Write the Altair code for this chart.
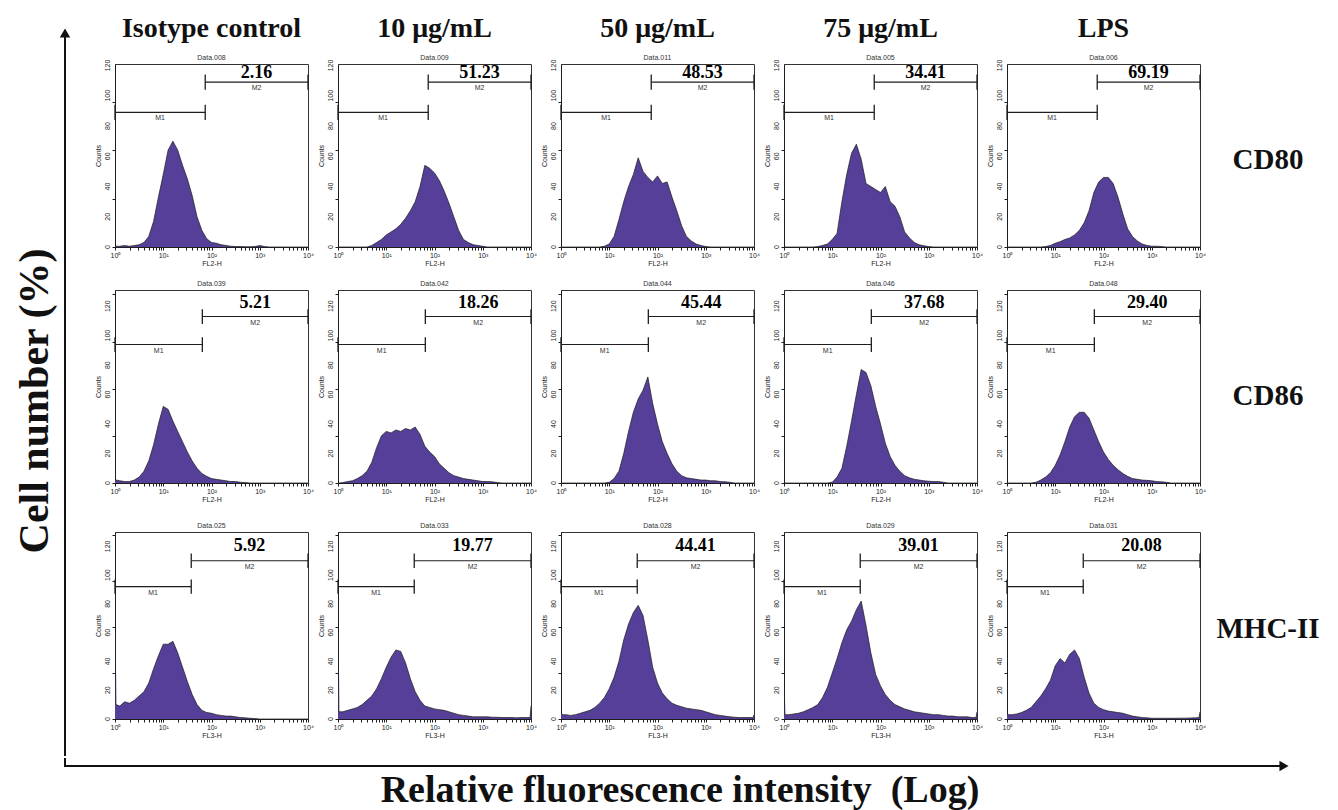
import math
import altair as alt
import pandas as pd

# ---------------- data ----------------
GRID_LOG = [0.0, 0.02,
            0.1, 0.2, 0.3, 0.4, 0.5, 0.6, 0.7, 0.8, 0.9,
            1.0, 1.1, 1.2, 1.3, 1.4, 1.5, 1.6, 1.7, 1.8, 1.9,
            2.0, 2.1, 2.2, 2.3, 2.4, 2.5, 2.6, 2.7, 2.8, 2.9,
            3.0, 3.1, 3.2, 3.3, 3.4, 3.5, 3.6, 3.7, 3.8, 3.9,
            3.98, 4.0]

COLUMNS = ["Isotype control", "10 μg/mL", "50 μg/mL", "75 μg/mL", "LPS"]
MARKERS = ["CD80", "CD86", "MHC-II"]
CHANNELS = ["FL2-H", "FL2-H", "FL3-H"]
DATA_NAMES = [
    ["Data.008", "Data.009", "Data.011", "Data.005", "Data.006"],
    ["Data.039", "Data.042", "Data.044", "Data.046", "Data.048"],
    ["Data.025", "Data.033", "Data.028", "Data.029", "Data.031"],
]
PERCENT_M2 = [
    ["2.16", "51.23", "48.53", "34.41", "69.19"],
    ["5.21", "18.26", "45.44", "37.68", "29.40"],
    ["5.92", "19.77", "44.41", "39.01", "20.08"],
]
GATE_LOG = [1.87, 1.81, 1.58]
M1_LEVEL = [89, 94, 92]
M2_LEVEL = [109, 113, 110]
Y_TOP = [121, 131, 130]
Y_TICK_LABELS = [0, 20, 40, 60, 80, 100, 120]
Y_TICKS = [0, 4, 8, 12, 16, 20, 24, 28, 32, 36, 40, 44, 48, 52, 56, 60,
           64, 68, 72, 76, 80, 84, 88, 92, 96, 100, 104, 108, 112, 116, 120, 124, 128]
X_TICKS = [1, 2, 3, 4, 5, 6, 7, 8, 9,
           10, 20, 30, 40, 50, 60, 70, 80, 90,
           100, 200, 300, 400, 500, 600, 700, 800, 900,
           1000, 2000, 3000, 4000, 5000, 6000, 7000, 8000, 9000,
           10000]
X_TICK_LABELS = {1: "10⁰", 10: "10¹", 100: "10²", 1000: "10³", 10000: "10⁴"}

CD80_ISOTYPE = [0.5, 0.5,
                0.5, 1, 0.5, 1, 1.5, 3, 7, 17, 33,
                48, 64, 70, 64, 54, 45, 34, 20, 11, 5.5,
                3, 2.5, 1.5, 1, 0.5, 0.3, 0.3, 0.2, 0.2, 0.3,
                1, 0.3, 0, 0, 0, 0, 0, 0, 0, 0,
                0, 0]
CD80_10 = [0, 0,
           0, 0, 0, 0, 0, 0, 1, 3, 5,
           8, 10, 12, 15, 19, 24, 30, 40, 54, 52,
           49, 44, 37, 29, 20, 11, 5, 3, 1.5, 1,
           0.5, 0, 0, 0, 0, 0, 0, 0, 0, 0,
           0, 0]
CD80_50 = [0, 0,
           0, 0, 0, 0, 0, 0, 0, 0, 0.5,
           2, 7, 18, 30, 40, 48, 59, 50, 46, 43,
           47, 42, 43, 33, 24, 14, 7, 4, 2, 1,
           0.3, 0, 0, 0, 0, 0, 0, 0, 0, 0,
           0, 0]
CD80_75 = [0, 0,
           0, 0, 0, 0, 0, 0, 0.3, 1, 2,
           5, 9, 30, 48, 62, 68, 58, 42, 40, 38,
           36, 40, 30, 27, 20, 10, 6, 3, 1.5, 0.8,
           0.3, 0, 0, 0, 0, 0, 0, 0, 0, 0,
           0, 0]
CD80_LPS = [0, 0,
            0, 0, 0, 0, 0, 0, 0, 0.3, 1,
            2.5, 3.5, 5, 6, 8, 11, 16, 24, 36, 43,
            46, 46, 42, 33, 22, 12, 7, 4, 2, 1,
            0.5, 0.5, 0.3, 0, 0, 0, 0, 0, 0, 0,
            0, 0]

CD86_ISOTYPE = [3, 2,
                1.5, 1, 1, 2, 4, 8, 15, 26, 40,
                52, 50, 42, 35, 28, 21, 15, 10, 6.5, 4.5,
                3, 2.5, 2, 1.5, 1, 1, 0.5, 0.3, 0, 0,
                0, 0, 0, 0, 0, 0, 0, 0, 0, 0,
                0, 0]
CD86_10 = [0, 0,
           0.3, 1, 1.5, 3, 5, 8, 14, 24, 32,
           35, 34, 36, 35, 37, 36, 38, 33, 25, 21,
           18, 13, 10, 7, 5, 4, 3, 2.5, 2, 1.5,
           1, 1, 0.8, 0.3, 0, 0, 0, 0, 0, 0,
           0, 0]
CD86_50 = [0, 0,
           0, 0, 0, 0, 0, 0, 0, 0, 0,
           0.5, 3, 8, 20, 35, 48, 57, 63, 72, 54,
           40, 28, 20, 13, 8, 5, 3.5, 3, 2.5, 2,
           2, 1.5, 1.5, 1, 0.8, 0.5, 0, 0, 0, 0,
           0, 0]
CD86_75 = [0, 0,
           0, 0, 0, 0, 0, 0, 0, 0, 0,
           0.5, 4, 10, 25, 42, 60, 77, 75, 66, 52,
           40, 27, 18, 12, 8, 5, 3.5, 2.5, 2, 1.5,
           1.2, 1, 1, 0.5, 0, 0, 0, 0, 0, 0,
           0, 0]
CD86_LPS = [0, 0,
            0, 0, 0, 0, 0, 0.5, 2, 4, 7,
            12, 19, 28, 38, 45, 48, 48, 44, 36, 28,
            21, 16, 12, 9, 6.5, 4.5, 3, 2.5, 2, 1.8,
            1.5, 1, 0.8, 0.5, 0, 0, 0, 0, 0, 0,
            0, 0]

MHC_ISOTYPE = [70, 10,
               9, 12, 11, 13, 16, 19, 25, 35, 44,
               52, 52, 54, 46, 36, 26, 17, 10, 6, 4.5,
               4, 3, 2.5, 2, 2, 1.5, 1, 0.8, 0.5, 0.3,
               0, 0, 0, 0, 0, 0, 0, 0, 0, 0,
               0, 0]
MHC_10 = [70, 5,
          5, 6, 7, 8, 10, 13, 16, 21, 28,
          36, 43, 48, 47, 39, 28, 19, 13, 9, 8,
          7, 6.5, 6, 5, 4, 3, 2.5, 2, 1.5, 1.5,
          1.5, 1.5, 1.2, 1.2, 1, 1, 1, 0.8, 1, 1,
          1, 9]
MHC_50 = [5, 3,
          3, 2.5, 3, 4, 5, 6, 8, 11, 15,
          21, 29, 40, 55, 66, 74, 79, 72, 55, 36,
          25, 18, 14, 11, 9.5, 8.5, 7.5, 7, 6.5, 6,
          5, 4, 3, 2.5, 2, 1.5, 1.2, 1, 1, 1,
          1, 3]
MHC_75 = [25, 3,
          3, 3.5, 4, 5, 6.5, 8, 10, 15, 22,
          32, 42, 53, 62, 68, 76, 82, 65, 46, 31,
          23, 17, 13, 10, 8.5, 7, 6, 5, 4.5, 4,
          3.5, 3, 3, 2.5, 2, 2, 1.5, 1.5, 1.5, 1,
          1, 5]
MHC_LPS = [5, 3,
           3, 3.5, 4.5, 6, 8, 12, 16, 21, 27,
           37, 42, 39, 45, 48, 42, 29, 18, 11, 8,
           6.5, 5.5, 5, 4.5, 4, 3, 2, 1.5, 1, 0.8,
           0.5, 0.5, 0.5, 0.5, 0.5, 0.5, 0.6, 0.6, 0.7, 0.8,
           1, 5]

COUNTS = [
    [CD80_ISOTYPE, CD80_10, CD80_50, CD80_75, CD80_LPS],
    [CD86_ISOTYPE, CD86_10, CD86_50, CD86_75, CD86_LPS],
    [MHC_ISOTYPE, MHC_10, MHC_50, MHC_75, MHC_LPS],
]

Y_TITLE = "Cell number (%)"
X_TITLE = "Relative fluorescence intensity\u2002(Log)"

# ---------------- styling / layout ----------------
PURPLE = "#563f98"
INK = "#1e1e1e"
SANS = "Liberation Sans"
SERIF = "Liberation Serif"
PANEL_W = 193
PANEL_H = [183, 193, 187]
HSPACE = 3
VSPACE_12 = 12
VSPACE_23 = 18
ROW_LABEL_Y = [96, 106, 97]
ROW_LABEL_X = 261
LEFT_W, LEFT_H = 81, 692
AX_X = 52

X_LABEL_EXPR = " : ".join(
    f"datum.value == {v} ? '{s}'" for v, s in X_TICK_LABELS.items()) + " : ''"


def panel(r, c):
    top = Y_TOP[r]
    xs = alt.Scale(type="log", domain=[1, 10000], nice=False)
    ys = alt.Scale(domain=[0, top], nice=False, zero=False)
    xaxis = alt.Axis(
        title=CHANNELS[r], values=X_TICKS, labelExpr=X_LABEL_EXPR,
        labelFlush=False, labelOverlap=False, grid=False,
        tickSize=3, tickColor=INK, domainColor=INK, tickWidth=1, domainWidth=1,
        labelFont=SANS, labelFontSize=7, labelColor="#222", labelPadding=1,
        titleFont=SANS, titleFontSize=7, titleFontWeight="normal",
        titleColor="#222", titlePadding=1,
    )
    yaxis = alt.Axis(
        title="Counts", values=[v for v in Y_TICKS if v <= top], labels=False,
        grid=False, tickSize=3, tickColor=INK, domainColor=INK, tickWidth=1,
        domainWidth=1, titleFont=SANS, titleFontSize=7, titleFontWeight="normal",
        titleColor="#222", titlePadding=10,
    )
    hist = pd.DataFrame({"fl": [10 ** g for g in GRID_LOG], "count": COUNTS[r][c]})
    area = alt.Chart(hist).mark_area(
        color=PURPLE, opacity=1, fillOpacity=1,
        line={"color": "#1b1b1b", "strokeWidth": 0.7}, clip=True
    ).encode(
        x=alt.X("fl:Q", scale=xs, axis=xaxis),
        y=alt.Y("count:Q", scale=ys, axis=yaxis),
    )
    ylab = alt.Chart(pd.DataFrame({"v": Y_TICK_LABELS})).mark_text(
        font=SANS, fontSize=7, color="#222", angle=270, align="center",
        baseline="bottom"
    ).encode(x=alt.value(-4), y=alt.Y("v:Q", scale=ys), text="v:Q")

    g = 10 ** GATE_LOG[r]
    m1, m2 = M1_LEVEL[r], M2_LEVEL[r]
    bars = pd.DataFrame({
        "x1": [1, g], "x2": [g, 10000], "lev": [m1, m2], "name": ["M1", "M2"],
        "mid": [math.sqrt(g), math.sqrt(g * 10000)],
    })
    bar_rule = alt.Chart(bars).mark_rule(color=INK, strokeWidth=1.1).encode(
        x=alt.X("x1:Q", scale=xs), x2="x2:Q",
        y=alt.Y("lev:Q", scale=ys),
    )
    ticks = pd.DataFrame({
        "x": [1, g, g, 10000],
        "lo": [m1 - 5, m1 - 5, m2 - 5, m2 - 5],
        "hi": [m1 + 5, m1 + 5, m2 + 5, m2 + 5],
    })
    tick_rule = alt.Chart(ticks).mark_rule(color=INK, strokeWidth=1.3).encode(
        x=alt.X("x:Q", scale=xs),
        y=alt.Y("lo:Q", scale=ys), y2="hi:Q",
    )
    names = alt.Chart(bars).mark_text(
        font=SANS, fontSize=7, color="#333", baseline="top", dy=2
    ).encode(
        x=alt.X("mid:Q", scale=xs),
        y=alt.Y("lev:Q", scale=ys), text="name:N",
    )
    val = pd.DataFrame({"mid": [math.sqrt(g * 10000)], "lev": [(m2 + top) / 2],
                        "pct": [PERCENT_M2[r][c]]})
    value = alt.Chart(val).mark_text(
        font=SERIF, fontSize=18, fontWeight="bold", color="black", baseline="middle"
    ).encode(
        x=alt.X("mid:Q", scale=xs),
        y=alt.Y("lev:Q", scale=ys), text="pct:N",
    )
    dname = alt.Chart(pd.DataFrame({"t": [DATA_NAMES[r][c]]})).mark_text(
        font=SANS, fontSize=7, color="#333", baseline="bottom"
    ).encode(text="t:N", x=alt.value(PANEL_W / 2), y=alt.value(-3))

    layers = [area, ylab, bar_rule, tick_rule, names, value, dname]
    if r == 0:
        layers.append(
            alt.Chart(pd.DataFrame({"t": [COLUMNS[c]]})).mark_text(
                font=SERIF, fontSize=28, fontWeight="bold", color="#111",
                baseline="alphabetic"
            ).encode(text="t:N", x=alt.value(PANEL_W / 2), y=alt.value(-27))
        )
    if c == 4:
        layers.append(
            alt.Chart(pd.DataFrame({"t": [MARKERS[r]]})).mark_text(
                font=SERIF, fontSize=29, fontWeight="bold", color="#111",
                baseline="middle"
            ).encode(text="t:N", x=alt.value(ROW_LABEL_X), y=alt.value(ROW_LABEL_Y[r]))
        )
    return alt.layer(*layers).properties(
        width=PANEL_W, height=PANEL_H[r],
        view=alt.ViewBackground(stroke="#333", strokeWidth=1),
    )


rows = [alt.hconcat(*[panel(r, c) for c in range(5)], spacing=HSPACE) for r in range(3)]
grid = alt.vconcat(rows[0], alt.vconcat(rows[1], rows[2], spacing=VSPACE_23),
                   spacing=VSPACE_12)

dummy = pd.DataFrame({"k": [0]})
left = alt.layer(
    alt.Chart(dummy).mark_rule(color="#111", strokeWidth=2).encode(
        x=alt.value(AX_X), y=alt.value(-30), y2=alt.value(LEFT_H)),
    alt.Chart(dummy).mark_point(shape="triangle-up", filled=True, size=110,
                                color="#111", opacity=1).encode(
        x=alt.value(AX_X), y=alt.value(-31)),
    alt.Chart(pd.DataFrame({"t": [Y_TITLE]})).mark_text(
        font=SERIF, fontSize=42, fontWeight="bold", angle=270, color="#111",
        baseline="middle").encode(text="t:N", x=alt.value(22), y=alt.value(337)),
).properties(width=LEFT_W, height=LEFT_H)

bottom = alt.layer(
    alt.Chart(dummy).mark_rule(color="#111", strokeWidth=2).encode(
        x=alt.value(AX_X), y=alt.value(0), y2=alt.value(8)),
    alt.Chart(dummy).mark_rule(color="#111", strokeWidth=2).encode(
        x=alt.value(AX_X - 1), x2=alt.value(1270), y=alt.value(8)),
    alt.Chart(dummy).mark_point(shape="triangle-right", filled=True, size=110,
                                color="#111", opacity=1).encode(
        x=alt.value(1271), y=alt.value(8)),
    alt.Chart(pd.DataFrame({"t": [X_TITLE]})).mark_text(
        font=SERIF, fontSize=38, fontWeight="bold", color="#111",
        baseline="middle").encode(text="t:N", x=alt.value(667), y=alt.value(33)),
).properties(width=1285, height=50)

chart = alt.vconcat(
    alt.hconcat(left, grid, spacing=0),
    bottom,
    spacing=0,
).properties(
    padding={"left": 5, "top": 6, "right": 5, "bottom": 5},
    background="white",
).configure_view(stroke=None)

chart.save("out.html", embed_options={"renderer": "svg", "actions": False})
